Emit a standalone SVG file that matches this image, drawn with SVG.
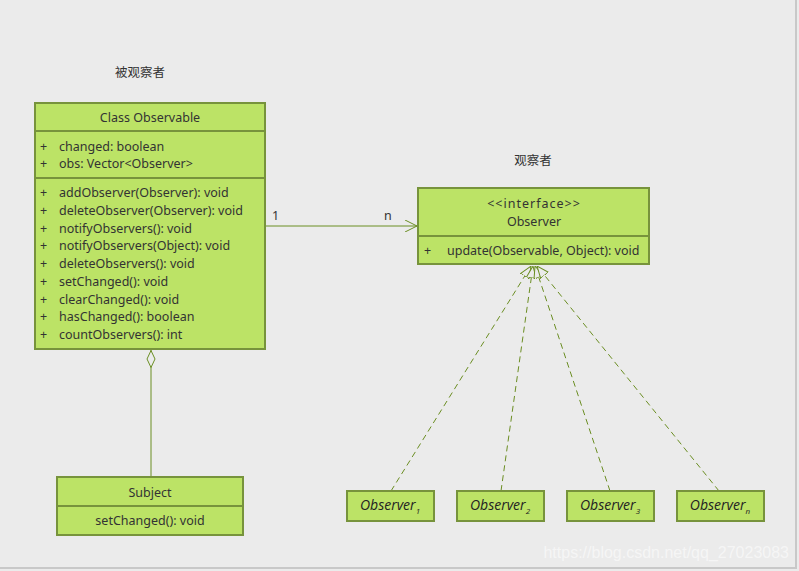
<svg xmlns="http://www.w3.org/2000/svg" width="799" height="571" viewBox="0 0 799 571">
<defs>
<style>
.bg{fill:#ebebeb}
.box{fill:#bce366;stroke:#77933c;stroke-width:2}
.div{stroke:#77933c;stroke-width:2;fill:none}
.t{font-family:"Noto Sans","Noto Sans CJK SC",sans-serif;font-size:12.5px;fill:#333}
.c{text-anchor:middle}
.it{font-family:"Open Sans","Liberation Sans",sans-serif;font-style:italic;font-size:14px;fill:#222;text-anchor:middle}
.sub{font-size:8px}
.ln{stroke:#6b8e23;stroke-width:1;fill:none}
.dash{stroke:#6b8e23;stroke-width:1;fill:none;stroke-dasharray:6,4}
</style>
<marker id="open" viewBox="0 0 12 12" refX="12" refY="6" markerWidth="12" markerHeight="12" markerUnits="userSpaceOnUse" orient="auto">
<path d="M0,0 L12,6 L0,12" fill="none" stroke="#6b8e23" stroke-width="1"/>
</marker>
<marker id="tri" viewBox="0 0 12 12" refX="12" refY="6" markerWidth="12" markerHeight="12" markerUnits="userSpaceOnUse" orient="auto">
<path d="M0,1 L12,6 L0,11 Z" fill="#ebebeb" stroke="#6b8e23" stroke-width="1"/>
</marker>
<marker id="dia" viewBox="0 0 18 10" refX="18" refY="5" markerWidth="18" markerHeight="10" markerUnits="userSpaceOnUse" orient="auto">
<path d="M0.5,5 L9,1 L17.5,5 L9,9 Z" fill="#ebebeb" stroke="#6b8e23" stroke-width="1"/>
</marker>
</defs>
<rect class="bg" x="0" y="0" width="799" height="571"/>
<path d="M796,0 V568 H0" fill="none" stroke="#c8c8c8" stroke-width="2"/>

<text class="t c" x="140" y="77">被观察者</text>
<text class="t c" x="533" y="165">观察者</text>

<g id="connectors">
<line class="ln" x1="266" y1="226" x2="417" y2="226" marker-end="url(#open)"/>
<text class="t" x="272" y="220">1</text>
<text class="t" x="384" y="220">n</text>
<line class="ln" x1="151" y1="477" x2="151" y2="350" marker-end="url(#dia)"/>
<line class="dash" x1="391" y1="491" x2="531" y2="266" marker-end="url(#tri)"/>
<line class="dash" x1="501" y1="491" x2="533" y2="266" marker-end="url(#tri)"/>
<line class="dash" x1="610" y1="491" x2="535" y2="266" marker-end="url(#tri)"/>
<line class="dash" x1="719" y1="491" x2="537" y2="266" marker-end="url(#tri)"/>
</g>

<g id="observable">
<rect class="box" x="35" y="103" width="230" height="246"/>
<line class="div" x1="35" y1="131" x2="265" y2="131"/>
<line class="div" x1="35" y1="178" x2="265" y2="178"/>
<text class="t c" x="150" y="122">Class Observable</text>
<text class="t" x="40" y="151">+</text><text class="t" x="59" y="151">changed: boolean</text>
<text class="t" x="40" y="168">+</text><text class="t" x="59" y="168">obs: Vector&lt;Observer&gt;</text>
<text class="t" x="40" y="197">+</text><text class="t" x="59" y="197">addObserver(Observer): void</text>
<text class="t" x="40" y="215">+</text><text class="t" x="59" y="215">deleteObserver(Observer): void</text>
<text class="t" x="40" y="233">+</text><text class="t" x="59" y="233">notifyObservers(): void</text>
<text class="t" x="40" y="250">+</text><text class="t" x="59" y="250">notifyObservers(Object): void</text>
<text class="t" x="40" y="268">+</text><text class="t" x="59" y="268">deleteObservers(): void</text>
<text class="t" x="40" y="286">+</text><text class="t" x="59" y="286">setChanged(): void</text>
<text class="t" x="40" y="304">+</text><text class="t" x="59" y="304">clearChanged(): void</text>
<text class="t" x="40" y="321">+</text><text class="t" x="59" y="321">hasChanged(): boolean</text>
<text class="t" x="40" y="339">+</text><text class="t" x="59" y="339">countObservers(): int</text>
</g>

<g id="observer-interface">
<rect class="box" x="418" y="188" width="231" height="76"/>
<line class="div" x1="418" y1="236" x2="649" y2="236"/>
<text class="t c" x="534" y="208" letter-spacing="1">&lt;&lt;interface&gt;&gt;</text>
<text class="t c" x="534" y="226">Observer</text>
<text class="t" x="424" y="255">+</text><text class="t" x="447" y="255">update(Observable, Object): void</text>
</g>

<g id="subject">
<rect class="box" x="57" y="477" width="186" height="58"/>
<line class="div" x1="57" y1="506" x2="243" y2="506"/>
<text class="t c" x="150" y="497">Subject</text>
<text class="t c" x="150" y="525">setChanged(): void</text>
</g>

<g id="observer1">
<rect class="box" x="347" y="491" width="87" height="30"/>
<text class="it" x="390" y="510">Observer<tspan class="sub" dy="4">1</tspan></text>
</g>
<g id="observer2">
<rect class="box" x="457" y="491" width="87" height="30"/>
<text class="it" x="500" y="510">Observer<tspan class="sub" dy="4">2</tspan></text>
</g>
<g id="observer3">
<rect class="box" x="567" y="491" width="87" height="30"/>
<text class="it" x="610" y="510">Observer<tspan class="sub" dy="4">3</tspan></text>
</g>
<g id="observern">
<rect class="box" x="677" y="491" width="87" height="30"/>
<text class="it" x="720" y="510">Observer<tspan class="sub" dy="4">n</tspan></text>
</g>

<text x="789" y="558" text-anchor="end" font-family="Liberation Sans, sans-serif" font-size="16" fill="#ffffff" fill-opacity="0.55">https://blog.csdn.net/qq_27023083</text>
</svg>
